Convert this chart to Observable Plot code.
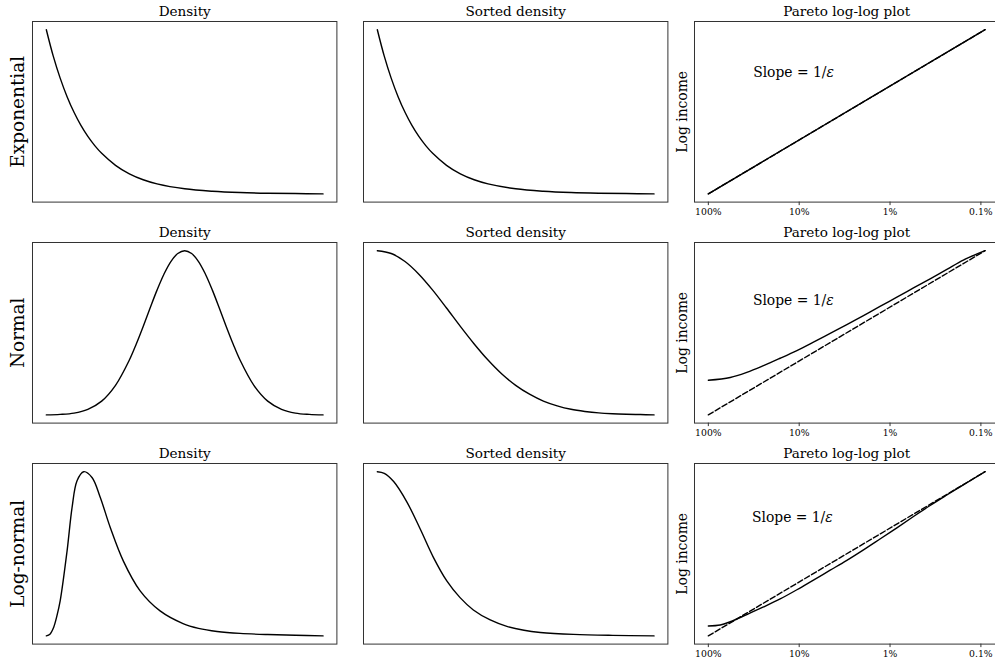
<!DOCTYPE html>
<html>
<head>
<meta charset="utf-8">
<script src="https://cdn.jsdelivr.net/npm/d3@7"></script>
<script src="https://cdn.jsdelivr.net/npm/@observablehq/plot@0.6"></script>
<style>
  body { margin: 0; background: #fff; }
  #chart { position: relative; width: 995px; height: 661px; overflow: hidden; background: #fff; }
</style>
</head>
<body>
<div id="chart"></div>
<script>
// ---------------- data ----------------
const rowNames = ["Exponential", "Normal", "Log-normal"];
const colTitles = ["Density", "Sorted density", "Pareto log-log plot"];
const paretoTicks = [1, 0.1, 0.01, 0.001];
const paretoTickLabels = ["100%", "10%", "1%", "0.1%"];
const yAxisLabel = "Log income";
const slopeText = "Slope = 1/";
const slopeSymbol = "ε";

// Exponential: density (position across range 0..1, scaled density 0..1)
const expDensX = [0, 0.025, 0.05, 0.075, 0.1, 0.125, 0.15, 0.175, 0.2, 0.25, 0.3, 0.35, 0.4, 0.5, 0.6, 0.7, 0.8, 0.9, 1];
const expDensY = [1, 0.839, 0.705, 0.592, 0.497, 0.417, 0.35, 0.294, 0.247, 0.174, 0.122, 0.086, 0.061, 0.031, 0.016, 0.008, 0.004, 0.002, 0];
const expSortX = [0, 0.025, 0.05, 0.075, 0.1, 0.125, 0.15, 0.175, 0.2, 0.25, 0.3, 0.35, 0.4, 0.5, 0.6, 0.7, 0.8, 0.9, 1];
const expSortY = [1, 0.839, 0.705, 0.592, 0.497, 0.417, 0.35, 0.294, 0.247, 0.174, 0.122, 0.086, 0.061, 0.031, 0.016, 0.008, 0.004, 0.002, 0];
// Exponential: Pareto plot (top share, scaled log income)
const expParetoX = [1, 0.0009];
const expParetoY = [0, 1];
const expSlopeX = [1, 0.0009];
const expSlopeY = [0, 1];

// Normal
const normDensX = [0, 0.05, 0.1, 0.15, 0.2, 0.25, 0.3, 0.325, 0.35, 0.375, 0.4, 0.425, 0.45, 0.475, 0.5, 0.525, 0.55, 0.575, 0.6, 0.625, 0.65, 0.675, 0.7, 0.75, 0.8, 0.85, 0.9, 0.95, 1];
const normDensY = [0, 0.003, 0.011, 0.034, 0.084, 0.18, 0.334, 0.432, 0.539, 0.651, 0.76, 0.857, 0.934, 0.983, 1, 0.983, 0.934, 0.857, 0.76, 0.651, 0.539, 0.432, 0.334, 0.18, 0.084, 0.034, 0.011, 0.003, 0];
const normSortX = [0, 0.05, 0.1, 0.15, 0.2, 0.25, 0.3, 0.35, 0.4, 0.45, 0.5, 0.55, 0.6, 0.65, 0.7, 0.75, 0.8, 0.85, 0.9, 0.95, 1];
const normSortY = [1, 0.983, 0.934, 0.857, 0.76, 0.651, 0.539, 0.432, 0.334, 0.249, 0.18, 0.126, 0.084, 0.055, 0.034, 0.021, 0.012, 0.007, 0.004, 0.002, 0];
const normParetoX = [1, 0.574, 0.377, 0.247, 0.162, 0.106, 0.0697, 0.0456, 0.0299, 0.0196, 0.0129, 0.00841, 0.00552, 0.00362, 0.00237, 0.00156, 0.0009];
const normParetoY = [0.211, 0.228, 0.259, 0.3, 0.345, 0.392, 0.443, 0.496, 0.55, 0.605, 0.661, 0.717, 0.773, 0.829, 0.886, 0.943, 1];
const normSlopeX = [1, 0.0009];
const normSlopeY = [0, 1];

// Log-normal
const lnDensX = [0, 0.013, 0.026, 0.038, 0.05, 0.075, 0.093, 0.111, 0.135, 0.165, 0.195, 0.231, 0.278, 0.339, 0.411, 0.494, 0.55, 0.617, 0.7, 0.8, 0.9, 1];
const lnDensY = [0, 0.01, 0.05, 0.12, 0.213, 0.518, 0.782, 0.945, 1, 0.965, 0.843, 0.66, 0.457, 0.274, 0.152, 0.075, 0.046, 0.027, 0.015, 0.008, 0.004, 0];
const lnSortX = [0, 0.025, 0.059, 0.107, 0.155, 0.203, 0.251, 0.299, 0.347, 0.408, 0.468, 0.53, 0.589, 0.709, 0.85, 1];
const lnSortY = [1, 0.99, 0.94, 0.815, 0.651, 0.477, 0.335, 0.233, 0.158, 0.097, 0.058, 0.034, 0.021, 0.009, 0.003, 0];
const lnParetoX = [1, 0.74, 0.574, 0.377, 0.247, 0.162, 0.106, 0.0697, 0.0456, 0.0299, 0.0196, 0.0129, 0.00841, 0.00552, 0.00362, 0.00237, 0.00156, 0.0009];
const lnParetoY = [0.06, 0.066, 0.086, 0.13, 0.176, 0.225, 0.281, 0.34, 0.4, 0.46, 0.524, 0.59, 0.658, 0.727, 0.794, 0.858, 0.92, 1];
const lnSlopeX = [1, 0.0009];
const lnSlopeY = [0, 1];

// Position of the "Slope = 1/ε" note in each Pareto panel (top share, scaled log income)
const slopeNoteX = [0.321, 0.323, 0.331];
const slopeNoteY = [0.739, 0.699, 0.719];

// ---------------- layout ----------------
const panelW = 304.4, panelH = 180.6;
const colLeft = [32.3, 363.3, 694.3];
const rowTop = [21, 242.3, 462.7];
const mL = 40, mR = 10, mT = 24, mB = 22;
const FONT = "'DejaVu Serif', serif";

const toPts = (xs, ys) => xs.map((x, i) => ({x, y: ys[i]}));
const chart = document.getElementById("chart");

function place(svg, col, row) {
  svg.style.position = "absolute";
  svg.style.left = (colLeft[col] - mL) + "px";
  svg.style.top = (rowTop[row] - mT) + "px";
  chart.appendChild(svg);
}

function baseOptions() {
  return {
    width: mL + panelW + mR,
    height: mT + panelH + mB,
    marginLeft: mL, marginRight: mR, marginTop: mT, marginBottom: mB,
    style: {fontFamily: FONT, background: "transparent", overflow: "visible", maxWidth: "none", color: "#000"},
    y: {domain: [-0.05, 1.05], axis: null}
  };
}

function titleMark(t) {
  return Plot.text([t], {frameAnchor: "top", textAnchor: "middle", lineAnchor: "bottom", dy: -5.5, fontSize: 13.6, fill: "#000"});
}

function densityPanel(col, row, xs, ys) {
  const marks = [
    Plot.frame({stroke: "#333", strokeWidth: 1}),
    Plot.line(toPts(xs, ys), {x: "x", y: "y", stroke: "#000", strokeWidth: 1.4, curve: "catmull-rom"}),
    titleMark(colTitles[col])
  ];
  if (col === 0) {
    marks.push(Plot.text([rowNames[row]], {frameAnchor: "left", textAnchor: "middle", rotate: -90, lineAnchor: "bottom", dx: -8, fontSize: 18.5, fill: "#000"}));
  }
  const svg = Plot.plot({...baseOptions(), x: {domain: [-0.05, 1.05], axis: null}, marks});
  place(svg, col, row);
}

function paretoPanel(row, xs, ys, sx, sy) {
  const allX = xs.concat(sx);
  const lo = Math.log10(d3.min(allX)), hi = Math.log10(d3.max(allX));
  const pad = 0.05 * (hi - lo);
  const domain = [Math.pow(10, hi + pad), Math.pow(10, lo - pad)];
  const marks = [
    Plot.frame({stroke: "#333", strokeWidth: 1}),
    Plot.line(toPts(xs, ys), {x: "x", y: "y", stroke: "#000", strokeWidth: 1.4, curve: "catmull-rom"}),
    Plot.line(toPts(sx, sy), {x: "x", y: "y", stroke: "#000", strokeWidth: 1.4, strokeDasharray: "5.6,2.4"}),
    Plot.axisX(paretoTicks, {
      anchor: "bottom", label: null, tickSize: 3.5, tickPadding: 2.5, fontSize: 9.3,
      tickFormat: d => paretoTickLabels[paretoTicks.indexOf(d)], stroke: "#333"
    }),
    Plot.text([{x: slopeNoteX[row], y: slopeNoteY[row]}], {x: "x", y: "y", text: () => slopeText + slopeSymbol, textAnchor: "start", fontSize: 13.9, fill: "#000"}),
    titleMark(colTitles[2]),
    Plot.text([yAxisLabel], {frameAnchor: "left", textAnchor: "middle", rotate: -90, lineAnchor: "bottom", dx: -7.6, fontSize: 13.9, fill: "#000"})
  ];
  const svg = Plot.plot({...baseOptions(), x: {type: "log", domain, label: null}, marks});
  // italic epsilon
  svg.querySelectorAll("text").forEach(t => {
    if (t.textContent === slopeText + slopeSymbol) {
      t.textContent = "";
      const ns = "http://www.w3.org/2000/svg";
      const a = document.createElementNS(ns, "tspan");
      a.textContent = slopeText;
      const b = document.createElementNS(ns, "tspan");
      b.textContent = slopeSymbol;
      b.setAttribute("font-style", "italic");
      t.appendChild(a); t.appendChild(b);
    }
  });
  place(svg, 2, row);
}

densityPanel(0, 0, expDensX, expDensY);
densityPanel(1, 0, expSortX, expSortY);
paretoPanel(0, expParetoX, expParetoY, expSlopeX, expSlopeY);

densityPanel(0, 1, normDensX, normDensY);
densityPanel(1, 1, normSortX, normSortY);
paretoPanel(1, normParetoX, normParetoY, normSlopeX, normSlopeY);

densityPanel(0, 2, lnDensX, lnDensY);
densityPanel(1, 2, lnSortX, lnSortY);
paretoPanel(2, lnParetoX, lnParetoY, lnSlopeX, lnSlopeY);
</script>
</body>
</html>
